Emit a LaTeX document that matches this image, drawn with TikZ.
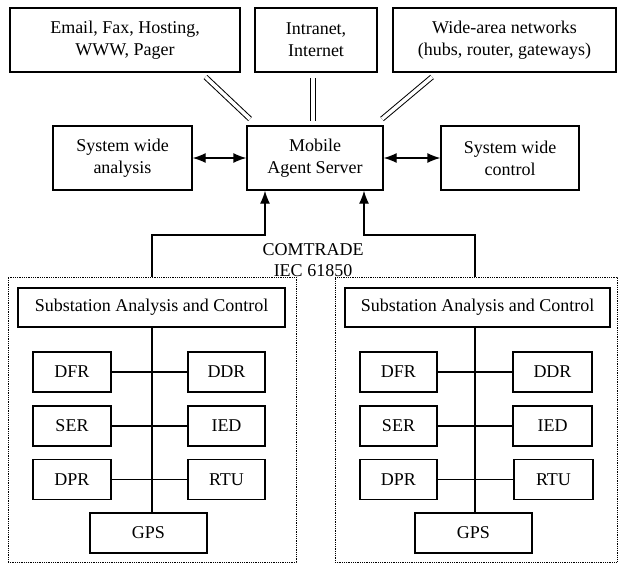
\documentclass[tikz,border=0pt]{standalone}
\usepackage{fontspec}
\setmainfont{Liberation Serif}
\usetikzlibrary{arrows.meta,calc}
\begin{document}
\begin{tikzpicture}[x=1pt,y=-1pt,
  box/.style={draw,line width=1.3pt,rectangle,inner sep=0pt,align=center,font=\fontsize{18}{22}\selectfont},
  grp/.style={draw,line width=1pt,dash pattern=on 0.9pt off 0.9pt,rectangle,inner sep=0pt},
  dbl/.style={line width=1pt,double,double distance=3.5pt},
  conn/.style={line width=1.1pt},
  arr/.style={line width=1.3pt,-{Latex[length=13pt,width=10pt]}},
  barr/.style={line width=1.3pt,{Latex[length=13pt,width=10pt]}-{Latex[length=13pt,width=10pt]}}]
\useasboundingbox (0,0) rectangle (619,565);
% top row
\node[box,minimum width=230pt,minimum height=64pt] (A) at (125,40) {Email, Fax, Hosting,\\WWW, Pager};
\node[box,minimum width=122pt,minimum height=64pt] (B) at (316,40) {Intranet,\\Internet};
\node[box,minimum width=223pt,minimum height=64pt] (C) at (504.5,40) {Wide-area networks\\(hubs, router, gateways)};
% middle row
\node[box,minimum width=139pt,minimum height=64pt] (swa) at (122.5,158) {System wide\\analysis};
\node[box,minimum width=136pt,minimum height=64pt] (mas) at (315,158) {Mobile\\Agent Server};
\node[box,minimum width=138pt,minimum height=64pt] (swc) at (510,158) {System wide\\control};
% double lines
\coordinate (a1) at (205.5,77); \coordinate (a2) at (250,119);
\coordinate (b1) at (313,78); \coordinate (b2) at (313,121);
\coordinate (c1) at (432,77); \coordinate (c2) at (382,119);
\draw[dbl] (a1) -- (a2);
\draw[dbl] (b1) -- (b2);
\draw[dbl] (c1) -- (c2);
% bidirectional arrows
\draw[barr] (swa.east) -- (mas.west);
\draw[barr] (mas.east) -- (swc.west);
% groups
\node[grp,minimum width=288pt,minimum height=285pt] (dotL) at (152,419.5) {};
\node[grp,minimum width=282pt,minimum height=285pt] (dotR) at (476,419.5) {};
% label
\node[font=\fontsize{18}{21}\selectfont,align=center,inner sep=0pt] (lab) at (313,260) {COMTRADE\\IEC 61850};
% up arrows
\coordinate (busL) at (152,0);
\coordinate (busR) at (475,0);
\coordinate (kL) at (265,235);
\coordinate (kR) at (364,235);
\draw[arr] (busL |- dotL.north) |- (kL) -- (kL |- mas.south);
\draw[arr] (busR |- dotR.north) |- (kR) -- (kR |- mas.south);
% left substation
\node[box,minimum width=267pt,minimum height=39pt] (subL) at (151.5,307.5) {Substation Analysis and Control};
\node[box,minimum width=78pt,minimum height=40pt] (dfrL) at (72,372) {DFR};
\node[box,minimum width=77pt,minimum height=40pt] (ddrL) at (226.5,372) {DDR};
\node[box,minimum width=78pt,minimum height=40pt] (serL) at (72,426) {SER};
\node[box,minimum width=77pt,minimum height=40pt] (iedL) at (226.5,426) {IED};
\node[box,minimum width=78pt,minimum height=40pt] (dprL) at (72,479.5) {DPR};
\node[box,minimum width=77pt,minimum height=40pt] (rtuL) at (226.5,479.5) {RTU};
\node[box,minimum width=117pt,minimum height=40pt] (gpsL) at (148.5,533) {GPS};
\draw[conn] (busL |- subL.south) -- (busL |- gpsL.north);
\draw[conn] (dfrL.east) -- (ddrL.west);
\draw[conn] (serL.east) -- (iedL.west);
\draw[conn] (dprL.east) -- (rtuL.west);
% right substation
\node[box,minimum width=265pt,minimum height=39pt] (subR) at (477.5,307.5) {Substation Analysis and Control};
\node[box,minimum width=77pt,minimum height=40pt] (dfrR) at (398.5,372) {DFR};
\node[box,minimum width=79pt,minimum height=40pt] (ddrR) at (552.5,372) {DDR};
\node[box,minimum width=77pt,minimum height=40pt] (serR) at (398.5,426) {SER};
\node[box,minimum width=79pt,minimum height=40pt] (iedR) at (552.5,426) {IED};
\node[box,minimum width=77pt,minimum height=40pt] (dprR) at (398.5,479.5) {DPR};
\node[box,minimum width=79pt,minimum height=40pt] (rtuR) at (553.5,479.5) {RTU};
\node[box,minimum width=117pt,minimum height=40pt] (gpsR) at (473.5,533) {GPS};
\draw[conn] (busR |- subR.south) -- (busR |- gpsR.north);
\draw[conn] (dfrR.east) -- (ddrR.west);
\draw[conn] (serR.east) -- (iedR.west);
\draw[conn] (dprR.east) -- (rtuR.west);
\end{tikzpicture}
\end{document}
